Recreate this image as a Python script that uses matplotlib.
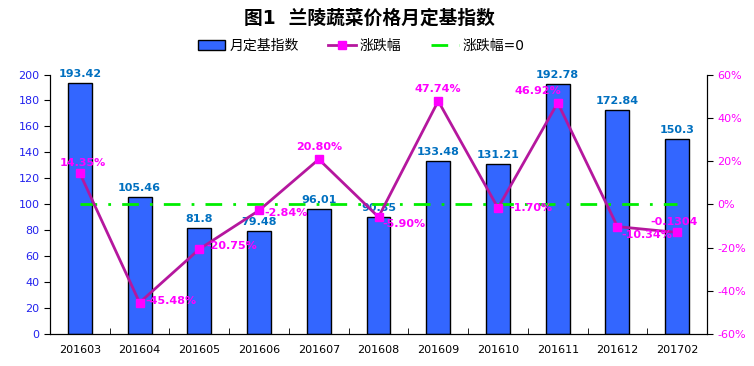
import numpy as np
import matplotlib
matplotlib.use("Agg")
import matplotlib.pyplot as plt

plt.rcParams['font.family'] = ['DejaVu Sans', 'Noto Sans CJK SC']

# 数据
months = ["201603", "201604", "201605", "201606", "201607", "201608",
          "201609", "201610", "201611", "201612", "201702"]
index_values = [193.42, 105.46, 81.8, 79.48, 96.01, 90.35,
                133.48, 131.21, 192.78, 172.84, 150.3]
change_pct = [14.35, -45.48, -20.75, -2.84, 20.80, -5.90,
              47.74, -1.70, 46.92, -10.34, -13.04]
change_labels = ["14.35%", "-45.48%", "-20.75%", "-2.84%", "20.80%", "-5.90%",
                 "47.74%", "-1.70%", "46.92%", "-10.34%", "-0.1304"]

# 标签位置（偏移, 对齐方式）
label_pos = [((2, 4), "center", "bottom"), ((4, 1), "left", "center"),
             ((5, 2), "left", "center"), ((4, -2), "left", "center"),
             ((0, 5), "center", "bottom"), ((3, -5), "left", "center"),
             ((0, 5), "center", "bottom"), ((8, 0), "left", "center"),
             ((-14, 5), "center", "bottom"), ((3, -6), "left", "center"),
             ((-2, 4), "center", "bottom")]

fig = plt.figure(figsize=(7.54, 3.66), dpi=100)
ax = fig.add_axes([0.0663, 0.0874, 0.8714, 0.709])
ax2 = ax.twinx()

x = np.arange(len(months))
bars = ax.bar(x, index_values, width=0.40, color="#3366FF", edgecolor="black",
              linewidth=1, label="月定基指数", zorder=2)
for xi, v in zip(x, index_values):
    ax.annotate(f"{v:g}", (xi, v), xytext=(0, 3), textcoords="offset points",
                ha="center", va="bottom", fontsize=8, fontweight="bold",
                color="#0070C0")

ax.set_ylim(0, 200)
ax.set_yticks(range(0, 201, 20))
ax.set_xlim(-0.5, len(months) - 0.5)
ax.set_xticks(x)
ax.set_xticklabels(months, fontsize=8)
ax.set_xticks(np.arange(-0.5, len(months), 1), minor=True)
ax.tick_params(axis="x", which="major", length=0, pad=8)
ax.tick_params(axis="x", which="minor", direction="in", length=4)
ax.tick_params(axis="y", labelsize=8, labelcolor="#2222EE", length=4)
ax.spines["top"].set_visible(False)

line, = ax2.plot(x, change_pct, color="#B5179E", linewidth=2, marker="s",
                 markersize=6, markerfacecolor="#FF00FF", markeredgecolor="#FF00FF",
                 label="涨跌幅", zorder=3)
zero, = ax2.plot(x, [0] * len(x), color="#00EE00", linewidth=2,
                 linestyle=(0, (6, 4, 1, 4)), label="涨跌幅=0", zorder=2)
for xi, v, t, (off, ha, va) in zip(x, change_pct, change_labels, label_pos):
    ax2.annotate(t, (xi, v), xytext=off, textcoords="offset points",
                 ha=ha, va=va, fontsize=8, fontweight="bold", color="#FF00FF")

ax2.set_ylim(-60, 60)
ax2.set_yticks(range(-60, 61, 20))
ax2.set_yticklabels([f"{v}%" for v in range(-60, 61, 20)])
ax2.tick_params(axis="y", labelsize=8, labelcolor="#FF00FF", length=4)
ax2.spines["top"].set_visible(False)

fig.suptitle("图1  兰陵蔬菜价格月定基指数", x=0.49, y=0.975, fontsize=13.5,
             fontweight="bold")
fig.legend(handles=[bars, line, zero], loc="center", bbox_to_anchor=(0.479, 0.874),
           ncol=3, frameon=False, fontsize=10, handlelength=2.0, columnspacing=2.1,
           handletextpad=0.3)

fig.savefig("out.png", dpi=100)
